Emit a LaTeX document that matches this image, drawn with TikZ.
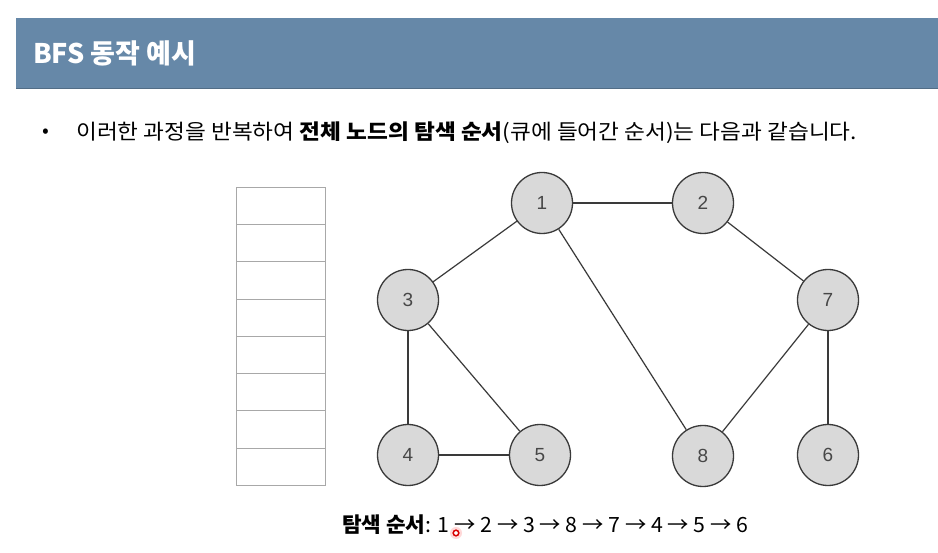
\documentclass[tikz,border=0pt]{standalone}
\usepackage{fontspec}
\setmainfont{Noto Sans CJK KR}
\newfontfamily\numfont{Liberation Sans}
\definecolor{barblue}{HTML}{6688A8}
\definecolor{nodegray}{HTML}{D9D9D9}
\definecolor{edgegray}{HTML}{3A3A3A}
\definecolor{boxline}{HTML}{A8A8A8}
\begin{document}
\begin{tikzpicture}[x=1pt,y=-1pt,
  gnode/.style={circle,draw=edgegray,fill=nodegray,line width=1.3pt,minimum size=61pt,inner sep=0pt,font=\numfont\fontsize{19}{19}\selectfont,text=black!72},
  gedge/.style={draw=edgegray,line width=1.2pt},
  qcell/.style={draw=boxline,line width=1pt,minimum width=89pt,minimum height=37.25pt,inner sep=0pt},
  bodytext/.style={anchor=west,inner sep=0pt,font=\fontsize{21}{22}\selectfont}]
\useasboundingbox (0,0) rectangle (938,553);
\fill[white] (0,0) rectangle (938,553);
% header
\fill[barblue] (16,18) rectangle (938,88);
\draw[barblue!80!black,line width=0.8pt] (16,88) -- (938,88);
\node[anchor=west,text=white,font=\fontsize{27}{27}\selectfont\bfseries,inner sep=0pt] (title) at (33,53) {BFS 동작 예시};
% bullet text
\node[anchor=center,inner sep=0pt,font=\fontsize{20}{20}\selectfont] (bullet) at (46,133) {•};
\node[bodytext] (desc) at (76,133) {\scalebox{1.078}[1]{이러한 과정을 반복하여 \textbf{전체 노드의 탐색 순서}(큐에 들어간 순서)는 다음과 같습니다.}};
% queue
\foreach \i in {0,...,7}{
  \node[qcell,anchor=north west] (q\i) at (236,187+\i*37.25) {};
}
% graph nodes
\node[gnode] (n1) at (542,203) {1};
\node[gnode] (n2) at (703,203) {2};
\node[gnode] (n3) at (408,300) {3};
\node[gnode] (n7) at (828,300) {7};
\node[gnode] (n4) at (408,455) {4};
\node[gnode] (n5) at (540,455) {5};
\node[gnode] (n8) at (703,456) {8};
\node[gnode] (n6) at (828,455) {6};
\draw[gedge] (n1) -- (n2);
\draw[gedge] (n1) -- (n3);
\draw[gedge] (n1) -- (n8);
\draw[gedge] (n2) -- (n7);
\draw[gedge] (n3) -- (n4);
\draw[gedge] (n3) -- (n5);
\draw[gedge] (n4) -- (n5);
\draw[gedge] (n7) -- (n8);
\draw[gedge] (n7) -- (n6);
% order text
\node[bodytext] (order) at (342,525) {\scalebox{1.015}[1]{\textbf{탐색 순서}: 1 → 2 → 3 → 8 → 7 → 4 → 5 → 6}};
% cursor dot
\fill[red!25,opacity=0.6] (456,533) circle (6pt);
\draw[red!85!black,line width=1.5pt,fill=white] (456,533) coordinate (cursor) circle (2.8pt);
\end{tikzpicture}
\end{document}
